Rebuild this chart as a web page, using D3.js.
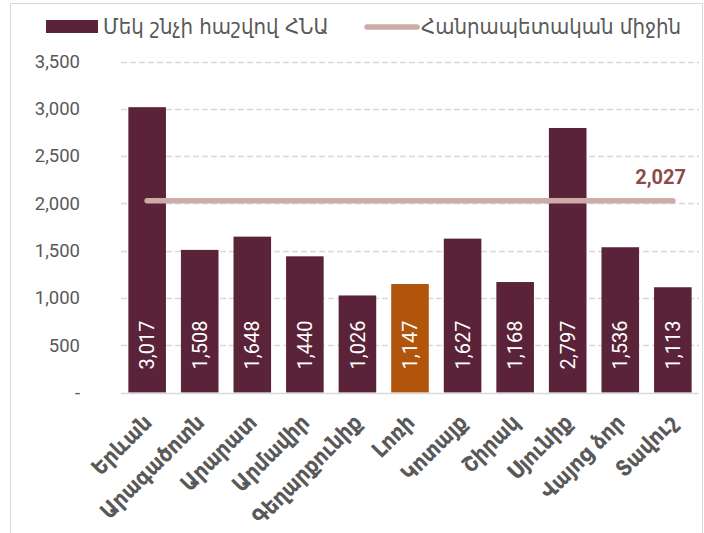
<!DOCTYPE html>
<html>
<head>
<meta charset="utf-8">
<script src="https://cdn.jsdelivr.net/npm/d3@7"></script>
<style>
  body { margin: 0; background: #fff; }
  svg { display: block; }
</style>
</head>
<body>
<svg width="704" height="533"></svg>
<script>
const regions = ["Երևան", "Արագածոտն", "Արարատ", "Արմավիր", "Գեղարքունիք", "Լոռի",
  "Կոտայք", "Շիրակ", "Սյունիք", "Վայոց ձոր", "Տավուշ"];
const gdpPerCapita = [3017, 1508, 1648, 1440, 1026, 1147, 1627, 1168, 2797, 1536, 1113];
const nationalAverage = 2027;
const yTicks = [0, 500, 1000, 1500, 2000, 2500, 3000, 3500];
const seriesNames = ["Մեկ շնչի հաշվով ՀՆԱ", "Հանրապետական միջին"];
const highlighted = "Լոռի";

const svg = d3.select("svg");
const armFont = "'DejaVu Sans Condensed', 'DejaVu Sans', sans-serif";
const numFont = "Roboto, 'Liberation Sans', sans-serif";

// chart frame
svg.append("rect")
  .attr("x", 10.5).attr("y", 3.5)
  .attr("width", 692).attr("height", 540)
  .attr("fill", "none").attr("stroke", "#d9d9d9");

const x = d3.scaleBand()
  .domain(regions)
  .range([121, 699])
  .paddingInner(0.285)
  .paddingOuter(0.14);

const y = d3.scaleLinear().domain([0, 3500]).range([392.5, 61.5]);

// gridlines
svg.append("g")
  .selectAll("line")
  .data(yTicks.filter((d) => d > 0))
  .join("line")
  .attr("x1", 121).attr("x2", 699)
  .attr("y1", (d) => Math.round(y(d)) + 0.5)
  .attr("y2", (d) => Math.round(y(d)) + 0.5)
  .attr("stroke", "#d9d9d9")
  .attr("stroke-width", 1.5)
  .attr("stroke-dasharray", "6,3");

// y axis labels
const yAxis = svg.append("g")
  .attr("transform", "translate(80,0)")
  .call(d3.axisLeft(y).tickValues(yTicks).tickSize(0).tickPadding(0)
    .tickFormat((d) => (d === 0 ? "-" : d3.format(",")(d))));
yAxis.select(".domain").remove();
yAxis.selectAll("text")
  .attr("fill", "#595959")
  .style("font-family", numFont)
  .style("font-size", "18.5px");

// bars
svg.append("g")
  .selectAll("rect")
  .data(regions)
  .join("rect")
  .attr("x", (d) => x(d))
  .attr("y", (d, i) => y(gdpPerCapita[i]))
  .attr("width", x.bandwidth())
  .attr("height", (d, i) => y(0) - y(gdpPerCapita[i]))
  .attr("fill", (d) => (d === highlighted ? "#b0550b" : "#5b2339"));

// x axis line
svg.append("line")
  .attr("x1", 121).attr("x2", 699)
  .attr("y1", 393.5).attr("y2", 393.5)
  .attr("stroke", "#d9d9d9").attr("stroke-width", 1.5);

// value labels inside bars
svg.append("g")
  .selectAll("text")
  .data(regions)
  .join("text")
  .attr("transform", (d) => `translate(${x(d) + x.bandwidth() / 2},${y(0) - 23}) rotate(-90)`)
  .attr("dy", "0.36em")
  .attr("text-anchor", "start")
  .attr("fill", "#fff")
  .style("font-family", numFont)
  .style("font-size", "20px")
  .text((d, i) => d3.format(",")(gdpPerCapita[i]));

// national average line
const first = regions[0], last = regions[regions.length - 1];
svg.append("line")
  .attr("x1", x(first) + x.bandwidth() / 2)
  .attr("x2", x(last) + x.bandwidth() / 2)
  .attr("y1", y(nationalAverage)).attr("y2", y(nationalAverage))
  .attr("stroke", "#cdaca8")
  .attr("stroke-width", 5.5)
  .attr("stroke-linecap", "round");

svg.append("text")
  .attr("x", 686).attr("y", 184)
  .attr("text-anchor", "end")
  .attr("fill", "#8b4b49")
  .style("font-family", numFont)
  .style("font-weight", "bold")
  .style("font-size", "20px")
  .text(d3.format(",")(nationalAverage));

// x labels
svg.append("g")
  .selectAll("text")
  .data(regions)
  .join("text")
  .attr("transform", (d) => `translate(${x(d) + x.bandwidth() / 2 + 6},${424}) rotate(-45)`)
  .attr("text-anchor", "end")
  .attr("fill", "#595959")
  .style("font-family", armFont)
  .style("font-weight", "bold")
  .style("font-size", "22px")
  .text((d) => d);

// legend
const legend = svg.append("g");
legend.append("rect")
  .attr("x", 46).attr("y", 20)
  .attr("width", 52).attr("height", 13)
  .attr("fill", "#5b2339");
legend.append("text")
  .attr("x", 103).attr("y", 34)
  .attr("fill", "#595959")
  .style("font-family", armFont)
  .style("font-size", "22px")
  .text(seriesNames[0]);
legend.append("line")
  .attr("x1", 367).attr("x2", 417)
  .attr("y1", 27).attr("y2", 27)
  .attr("stroke", "#cdaca8")
  .attr("stroke-width", 5.5)
  .attr("stroke-linecap", "round");
legend.append("text")
  .attr("x", 421).attr("y", 34)
  .attr("fill", "#595959")
  .style("font-family", armFont)
  .style("font-size", "22px")
  .text(seriesNames[1]);
</script>
</body>
</html>
